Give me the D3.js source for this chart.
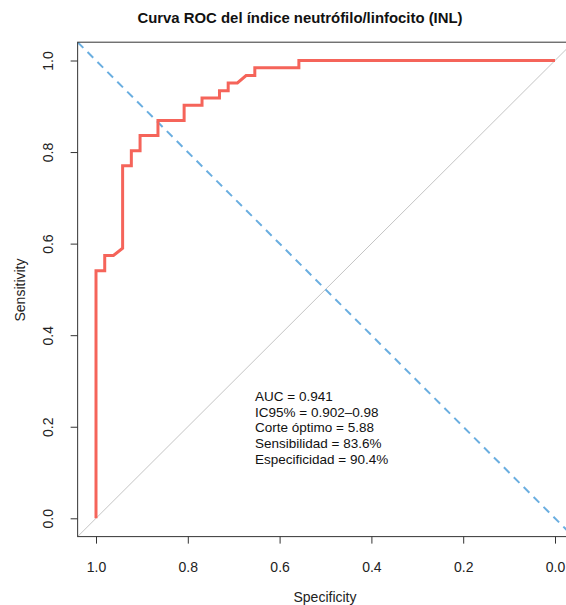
<!DOCTYPE html>
<html>
<head>
<meta charset="utf-8">
<script src="https://cdn.jsdelivr.net/npm/d3@7"></script>
<style>
  body { margin: 0; background: #fff; }
  svg { display: block; font-family: "Liberation Sans", Arial, sans-serif; }
</style>
</head>
<body>
<div id="chart"></div>
<script>
/* ROC curve points (specificity, sensitivity) */
const specificity = [1.000, 1.000, 0.981, 0.981, 0.962, 0.942, 0.942, 0.923, 0.923, 0.904, 0.904,
                     0.865, 0.865, 0.808, 0.808, 0.769, 0.769, 0.731, 0.731, 0.712, 0.712, 0.692,
                     0.673, 0.654, 0.654, 0.558, 0.558, 0.000];
const sensitivity = [0.000, 0.541, 0.541, 0.574, 0.574, 0.590, 0.770, 0.770, 0.803, 0.803, 0.836,
                     0.836, 0.869, 0.869, 0.902, 0.902, 0.918, 0.918, 0.934, 0.934, 0.951, 0.951,
                     0.967, 0.967, 0.984, 0.984, 1.000, 1.000];
const tickValues = [1.0, 0.8, 0.6, 0.4, 0.2, 0.0];
const statLines = ['AUC = 0.941', 'IC95% = 0.902\u20130.98', 'Corte óptimo = 5.88',
                   'Sensibilidad = 83.6%', 'Especificidad = 90.4%'];

const W = 566, H = 605;
const svg = d3.select('#chart').append('svg').attr('width', W).attr('height', H);

const x = d3.scaleLinear().domain([1, 0]).range([96, 555]);
const y = d3.scaleLinear().domain([0, 1]).range([518.3, 60.5]);
const [xl, xr] = [x(1.04), x(-0.04)];
const [yt, yb] = [y(1.04), y(-0.04)];

svg.append('clipPath').attr('id', 'box')
  .append('rect').attr('x', xl).attr('y', yt).attr('width', xr - xl).attr('height', yb - yt);
const plot = svg.append('g').attr('clip-path', 'url(#box)');

/* chance diagonal (grey) */
plot.append('line')
  .attr('x1', x(1.04)).attr('y1', y(-0.04)).attr('x2', x(-0.04)).attr('y2', y(1.04))
  .attr('stroke', '#c4c4c4').attr('stroke-width', 1);

/* dashed blue reference line */
plot.append('line')
  .attr('x1', x(1.04)).attr('y1', y(1.04)).attr('x2', x(-0.04)).attr('y2', y(-0.04))
  .attr('stroke', '#6aaee0').attr('stroke-width', 2)
  .attr('stroke-dasharray', '8,6');

/* ROC curve */
const pts = specificity.map((s, i) => [s, sensitivity[i]]);
plot.append('path').datum(pts)
  .attr('fill', 'none').attr('stroke', '#f5645a').attr('stroke-width', 3)
  .attr('stroke-linejoin', 'miter')
  .attr('d', d3.line().x(d => x(d[0])).y(d => y(d[1])));

/* box */
svg.append('rect').attr('x', xl).attr('y', yt).attr('width', xr - xl).attr('height', yb - yt)
  .attr('fill', 'none').attr('stroke', '#333').attr('stroke-width', 1);

/* axes */
const xAxis = svg.append('g').attr('transform', `translate(0,${yb})`)
  .call(d3.axisBottom(x).tickValues(tickValues).tickSize(7).tickPadding(18).tickFormat(d3.format('.1f')));
const yAxis = svg.append('g').attr('transform', `translate(${xl},0)`)
  .call(d3.axisLeft(y).tickValues(tickValues).tickSize(7).tickFormat(d3.format('.1f')));
[xAxis, yAxis].forEach(a => {
  a.select('.domain').remove();
  a.selectAll('line').attr('stroke', '#333');
  a.selectAll('text').attr('font-size', 14).attr('fill', '#222')
    .attr('font-family', '"Liberation Sans", Arial, sans-serif');
});
yAxis.selectAll('text')
  .attr('x', null).attr('dy', null).attr('text-anchor', 'middle')
  .attr('transform', 'translate(-30,0) rotate(-90)').attr('dy', '0.35em');

/* axis titles */
svg.append('text').attr('x', 325).attr('y', 602).attr('text-anchor', 'middle')
  .attr('font-size', 14).attr('fill', '#222').text('Specificity');
svg.append('text').attr('transform', 'translate(25,290) rotate(-90)').attr('text-anchor', 'middle')
  .attr('font-size', 14).attr('fill', '#222').text('Sensitivity');

/* title */
svg.append('text').attr('x', 300).attr('y', 23).attr('text-anchor', 'middle')
  .attr('font-size', 14.9).attr('font-weight', 'bold').attr('fill', '#111')
  .text('Curva ROC del índice neutrófilo/linfocito (INL)');

/* stats text */
svg.append('g').selectAll('text').data(statLines).join('text')
  .attr('x', 255).attr('y', (d, i) => 401 + i * 15.7)
  .attr('font-size', 13.5).attr('fill', '#111').text(d => d);
</script>
</body>
</html>
